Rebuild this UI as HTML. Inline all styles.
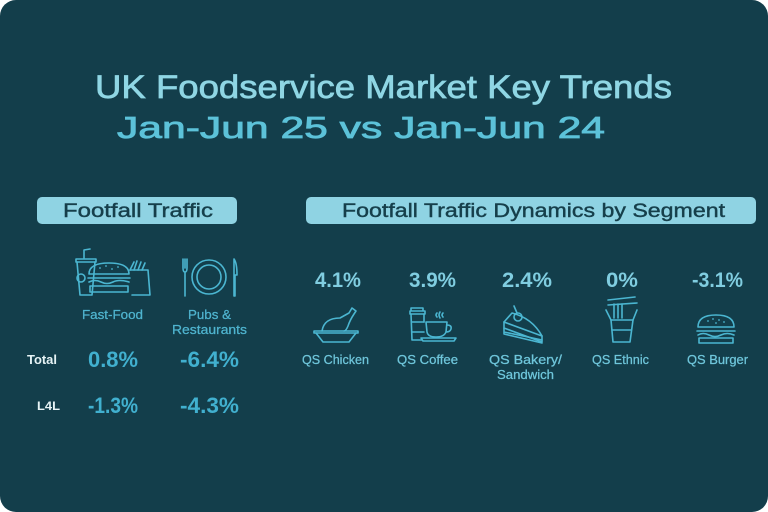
<!DOCTYPE html>
<html><head><meta charset="utf-8"><style>
html,body{margin:0;padding:0;background:#fff;}
svg{display:block;}
text{font-family:"Liberation Sans",sans-serif;}
</style></head><body>
<svg width="768" height="512" viewBox="0 0 768 512" xmlns="http://www.w3.org/2000/svg">
<rect x="0" y="0" width="768" height="512" rx="16" ry="16" fill="#133e4b"/>

<!-- Titles -->
<text x="95" y="98" font-size="32" fill="#8fd6e4" stroke="#8fd6e4" stroke-width="0.7" textLength="577" lengthAdjust="spacingAndGlyphs">UK Foodservice Market Key Trends</text>
<text x="117" y="138" font-size="31" fill="#5cc2d9" stroke="#5cc2d9" stroke-width="0.8" textLength="488" lengthAdjust="spacingAndGlyphs">Jan-Jun 25 vs Jan-Jun 24</text>

<!-- Pills -->
<rect x="37" y="197" width="200" height="27" rx="5" fill="#8fd3e3"/>
<text x="63" y="217" font-size="19" fill="#163f4b" stroke="#163f4b" stroke-width="0.4" textLength="150" lengthAdjust="spacingAndGlyphs">Footfall Traffic</text>
<rect x="306" y="197" width="450" height="27" rx="5" fill="#8fd3e3"/>
<text x="342" y="217" font-size="19" fill="#163f4b" stroke="#163f4b" stroke-width="0.4" textLength="383" lengthAdjust="spacingAndGlyphs">Footfall Traffic Dynamics by Segment</text>

<g fill="none" stroke="#4bb6d1" stroke-width="1.6" stroke-linecap="round" stroke-linejoin="round">
  <!-- Fast food icon -->
  <path d="M84 258 L84 250 L90 249"/>
  <path d="M76 259 L96 259 L96 262 L76 262 Z"/>
  <path d="M77 262 L80 295 L92 295 L95 262"/>
  <circle cx="81" cy="278" r="4"/>
  <path d="M89 274 Q89 263 109 263 Q129 263 129 274 Z"/>
  <path d="M88 278 L130 278 M89 282 Q95 279 101 282 Q107 285 113 282 Q119 279 129 282 M90 286 L128 286 M90 286 L90 292 L128 292 L128 286"/>
  <path d="M130 270 L134 262 M134 270 L137 261 M138 270 L141 262 M142 270 L145 263"/>
  <path d="M130 270 L148 270 L150 295 L132 295"/>
  <!-- Plate icon -->
  <path d="M183 259 L183 268 Q183 272 185 272 Q187 272 187 268 L187 259 M185 259 L185 268 M185 272 L185 296"/>
  <circle cx="209" cy="277" r="17"/>
  <circle cx="209" cy="277" r="12"/>
  <path d="M234 259 Q237 263 237 275 L235 275 L235 296 M234 259 L234 296"/>

  <!-- Chicken -->
  <path d="M314 331 L358 331 L358 333 L314 333 Z"/>
  <path d="M316 333 L323 342 L349 342 L356 333"/>
  <path d="M322 331 Q324 318 340 318 L349 313 L352 308 L356 311 L354 314 Q350 320 348 326 Q346 331 344 331"/>
  <!-- Coffee -->
  <path d="M411 308 L423 308 L423 311 L411 311 Z M410 311 L425 311 L425 314 L410 314 Z"/>
  <path d="M411 314 L412 340 L422 340 M424 314 L424 322"/>
  <path d="M412 322 L424 322 M412 332 L424 332"/>
  <path d="M426 322 L447 322 L446 332 Q444 337 436 337 Q428 337 427 332 Z"/>
  <path d="M447 325 Q452 325 451 329 Q450 332 446 332"/>
  <path d="M421 338 L456 338 L454 341 L423 341 Z"/>
  <path d="M437 313 Q435 315 437 317 M440 312 Q438 315 440 318 M443 313 Q441 315 443 317"/>
  <!-- Cake -->
  <path d="M504 328 L542 342 L542 336 L504 322 Z"/>
  <path d="M504 322 L512 313 Q532 318 542 336"/>
  <path d="M504 328 L504 334 L542 343 M504 332 L542 340"/>
  <circle cx="518" cy="317" r="4"/>
  <path d="M517 313 L514 306"/>
  <!-- Noodles -->
  <path d="M608 300 L635 297 M608 305 L637 303"/>
  <path d="M614 304 L614 318 M618 304 L618 318 M622 304 L622 318"/>
  <path d="M606 310 L611 320 L633 320 L637 310"/>
  <path d="M611 320 L613 342 L630 342 L633 320"/>
  <path d="M612 330 L631 330"/>
  <!-- Burger -->
  <path d="M698 327 Q698 315 716 315 Q734 315 734 327 Z"/>
  <path d="M697 331 L735 331 M698 335 Q703 332 709 335 Q715 338 721 335 Q727 332 734 335 M699 338 L733 338 L733 343 L699 343 Z"/>
</g>
<g fill="#4bb6d1">
  <circle cx="100" cy="268" r="0.9"/><circle cx="106" cy="266" r="0.9"/><circle cx="112" cy="269" r="0.9"/><circle cx="118" cy="267" r="0.9"/>
  <circle cx="708" cy="321" r="0.9"/><circle cx="713" cy="319" r="0.9"/><circle cx="719" cy="320" r="0.9"/><circle cx="724" cy="322" r="0.9"/><circle cx="716" cy="323" r="0.9"/>
</g>

<!-- Left labels -->
<g font-size="12.5" fill="#4fb4cf" stroke="#4fb4cf" stroke-width="0.25">
  <text x="82" y="319" textLength="61" lengthAdjust="spacingAndGlyphs">Fast-Food</text>
  <text x="188" y="319" textLength="43" lengthAdjust="spacingAndGlyphs">Pubs &amp;</text>
  <text x="172" y="334" textLength="75" lengthAdjust="spacingAndGlyphs">Restaurants</text>
</g>
<text x="27" y="364" font-size="13" font-weight="bold" fill="#e6f3f5" textLength="30" lengthAdjust="spacingAndGlyphs">Total</text>
<text x="37" y="410" font-size="12" font-weight="bold" fill="#e6f3f5" textLength="23" lengthAdjust="spacingAndGlyphs">L4L</text>
<g font-size="22" font-weight="bold" fill="#41b0cf">
  <text x="88" y="367" textLength="50" lengthAdjust="spacingAndGlyphs">0.8%</text>
  <text x="180" y="367" textLength="59" lengthAdjust="spacingAndGlyphs">-6.4%</text>
  <text x="88" y="413" textLength="50" lengthAdjust="spacingAndGlyphs">-1.3%</text>
  <text x="180" y="413" textLength="59" lengthAdjust="spacingAndGlyphs">-4.3%</text>
</g>

<!-- Segment values -->
<g font-size="21" font-weight="bold" fill="#80cde0">
  <text x="315" y="287" textLength="46" lengthAdjust="spacingAndGlyphs">4.1%</text>
  <text x="409" y="287" textLength="47" lengthAdjust="spacingAndGlyphs">3.9%</text>
  <text x="502" y="287" textLength="50" lengthAdjust="spacingAndGlyphs">2.4%</text>
  <text x="606" y="287" textLength="32" lengthAdjust="spacingAndGlyphs">0%</text>
  <text x="692" y="287" textLength="51" lengthAdjust="spacingAndGlyphs">-3.1%</text>
</g>
<g font-size="12.5" fill="#6fc6db" stroke="#6fc6db" stroke-width="0.25">
  <text x="302" y="364" textLength="67" lengthAdjust="spacingAndGlyphs">QS Chicken</text>
  <text x="397" y="364" textLength="61" lengthAdjust="spacingAndGlyphs">QS Coffee</text>
  <text x="489" y="364" textLength="73" lengthAdjust="spacingAndGlyphs">QS Bakery/</text>
  <text x="497" y="379" textLength="57" lengthAdjust="spacingAndGlyphs">Sandwich</text>
  <text x="592" y="364" textLength="57" lengthAdjust="spacingAndGlyphs">QS Ethnic</text>
  <text x="687" y="364" textLength="61" lengthAdjust="spacingAndGlyphs">QS Burger</text>
</g>
</svg>
</body></html>
